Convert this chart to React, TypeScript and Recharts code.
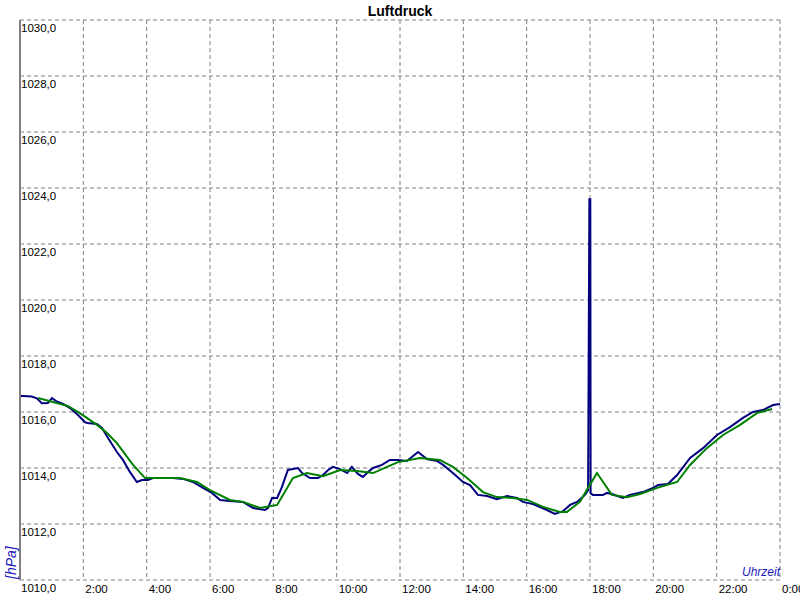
import React from 'react';
import { LineChart, Line, XAxis, YAxis, CartesianGrid } from 'recharts';

// Uhrzeit in Stunden, Luftdruck in hPa
const rawTime = [
  0, 0.1, 0.37, 0.53, 0.69, 0.88, 1.01, 1.14, 1.36, 1.58, 1.83, 2.05, 2.12, 2.43, 2.59, 2.78,
  3.06, 3.25, 3.47, 3.69, 3.85, 4.04, 4.2, 4.52, 4.83, 5.15, 5.46, 5.78, 6.06, 6.32, 6.63,
  7.04, 7.36, 7.74, 7.83, 7.96, 8.12, 8.27, 8.46, 8.78, 8.91, 9.16, 9.41, 9.57, 9.73, 9.88,
  10.11, 10.33, 10.48, 10.67, 10.83, 10.99, 11.15, 11.43, 11.68, 11.94, 12.22, 12.57, 12.85,
  13.17, 13.36, 13.67, 13.99, 14.21, 14.46, 14.75, 15.06, 15.38, 15.69, 15.88, 16.2, 16.64,
  16.89, 17.15, 17.37, 17.59, 17.84, 17.94, 17.96, 17.98, 18.01, 18.02, 18.09, 18.41, 18.54,
  18.69, 19.04, 19.26, 19.67, 19.99, 20.15, 20.46, 20.75, 21.16, 21.57, 22.01, 22.42, 22.83,
  23.15, 23.46, 23.78, 24,
];
const rawPressure = [
  1016.57, 1016.57, 1016.55, 1016.49, 1016.31, 1016.32, 1016.5, 1016.39, 1016.29, 1016.14,
  1015.89, 1015.64, 1015.61, 1015.57, 1015.43, 1015.07, 1014.57, 1014.29, 1013.86, 1013.5,
  1013.57, 1013.57, 1013.64, 1013.64, 1013.64, 1013.61, 1013.5, 1013.29, 1013.11, 1012.86,
  1012.82, 1012.79, 1012.57, 1012.5, 1012.57, 1012.93, 1012.93, 1013.32, 1013.93, 1014.0,
  1013.82, 1013.64, 1013.64, 1013.75, 1013.93, 1014.04, 1013.96, 1013.82, 1014.04, 1013.79,
  1013.68, 1013.86, 1014.0, 1014.11, 1014.29, 1014.29, 1014.25, 1014.57, 1014.32, 1014.25,
  1014.11, 1013.82, 1013.5, 1013.39, 1013.04, 1013.0, 1012.89, 1013.0, 1012.93, 1012.79,
  1012.71, 1012.5, 1012.36, 1012.46, 1012.68, 1012.79, 1013.04, 1013.21, 1018.4, 1023.6,
  1023.6, 1013.1, 1013.04, 1013.04, 1013.11, 1013.07, 1012.93, 1013.04, 1013.14, 1013.29,
  1013.39, 1013.43, 1013.75, 1014.36, 1014.71, 1015.18, 1015.46, 1015.79, 1016.0, 1016.07,
  1016.25, 1016.29,
];

// geglätteter Verlauf
const smoothTime = [
  0.57, 1.04, 1.52, 1.89, 2.43, 2.75, 3.06, 3.57, 3.95, 4.42, 5.05, 5.59, 6.0, 6.63, 7.04,
  7.58, 8.12, 8.62, 9.06, 9.57, 10.11, 10.64, 11.15, 11.59, 11.94, 12.63, 13.26, 13.67,
  14.12, 14.62, 15.06, 15.57, 16.01, 16.52, 17.05, 17.27, 17.68, 17.94, 18.22, 18.69, 19.17,
  19.58, 20.12, 20.75, 21.16, 21.69, 22.2, 22.74, 23.27, 23.75,
];
const smoothPressure = [
  1016.5, 1016.36, 1016.21, 1015.96, 1015.54, 1015.25, 1014.89, 1014.11, 1013.64, 1013.64,
  1013.64, 1013.5, 1013.21, 1012.86, 1012.79, 1012.57, 1012.68, 1013.64, 1013.82, 1013.71,
  1013.93, 1013.89, 1013.82, 1014.04, 1014.21, 1014.36, 1014.29, 1014.04, 1013.64, 1013.14,
  1012.96, 1012.93, 1012.86, 1012.61, 1012.43, 1012.43, 1012.79, 1013.29, 1013.82, 1013.04,
  1012.96, 1013.07, 1013.29, 1013.5, 1014.11, 1014.71, 1015.18, 1015.54, 1015.96, 1016.11,
];

const xTicks = [0, 2, 4, 6, 8, 10, 12, 14, 16, 18, 20, 22, 24];
const yTicks = [1010, 1012, 1014, 1016, 1018, 1020, 1022, 1024, 1026, 1028, 1030];

const rawData = rawTime.map((t, i) => ({ t, p: rawPressure[i] }));
const smoothData = smoothTime.map((t, i) => ({ t, p: smoothPressure[i] }));

const font = '"Liberation Sans", Arial, sans-serif';

const XTick = ({ x, payload }: any) => {
  const v = payload.value;
  if (v === 0) return null;
  const label = v === 24 ? '0:00' : `${v}:00`;
  return (
    <text x={x + 2} y={593} fontSize={11.5} fontFamily={font} fill="#000">
      {label}
    </text>
  );
};

const YTick = ({ y, payload }: any) => (
  <text x={21} y={y + 12} fontSize={11.5} fontFamily={font} fill="#000">
    {payload.value.toFixed(1).replace('.', ',')}
  </text>
);

const App: React.FC = () => {
  return (
    <div style={{ position: 'absolute', left: 0, top: 0, width: 800, height: 600, background: '#fff' }}>
      <LineChart width={800} height={600} margin={{ top: 20, right: 20, bottom: 0, left: 20 }}>
        <CartesianGrid stroke="#808080" strokeDasharray="4 3" />
        <XAxis
          dataKey="t"
          type="number"
          domain={[0, 24]}
          ticks={xTicks}
          height={20}
          axisLine={false}
          tickLine={false}
          tick={<XTick />}
          allowDataOverflow
        />
        <YAxis
          type="number"
          domain={[1010, 1030]}
          ticks={yTicks}
          mirror
          axisLine={{ stroke: '#808080', strokeWidth: 2 }}
          tickLine={false}
          tick={<YTick />}
          allowDataOverflow
        />
        <Line data={rawData} dataKey="p" type="linear" stroke="#000080" strokeWidth={2} dot={false} isAnimationActive={false} />
        <Line data={smoothData} dataKey="p" type="linear" stroke="#008000" strokeWidth={2} dot={false} isAnimationActive={false} />
      </LineChart>
      <svg width={800} height={600} style={{ position: 'absolute', left: 0, top: 0, pointerEvents: 'none' }}>
        <text x={400} y={16} textAnchor="middle" fontSize={14} fontWeight="bold" fontFamily={font} fill="#000">
          Luftdruck
        </text>
        <text x={780} y={576} textAnchor="end" fontSize={12} fontStyle="italic" fontFamily={font} fill="#2020c0">
          Uhrzeit
        </text>
        <text
          x={16}
          y={579}
          transform="rotate(-90 16 579)"
          fontSize={14}
          fontStyle="italic"
          fontFamily={font}
          fill="#2020c0"
        >
          [hPa]
        </text>
      </svg>
    </div>
  );
};

export default App;
